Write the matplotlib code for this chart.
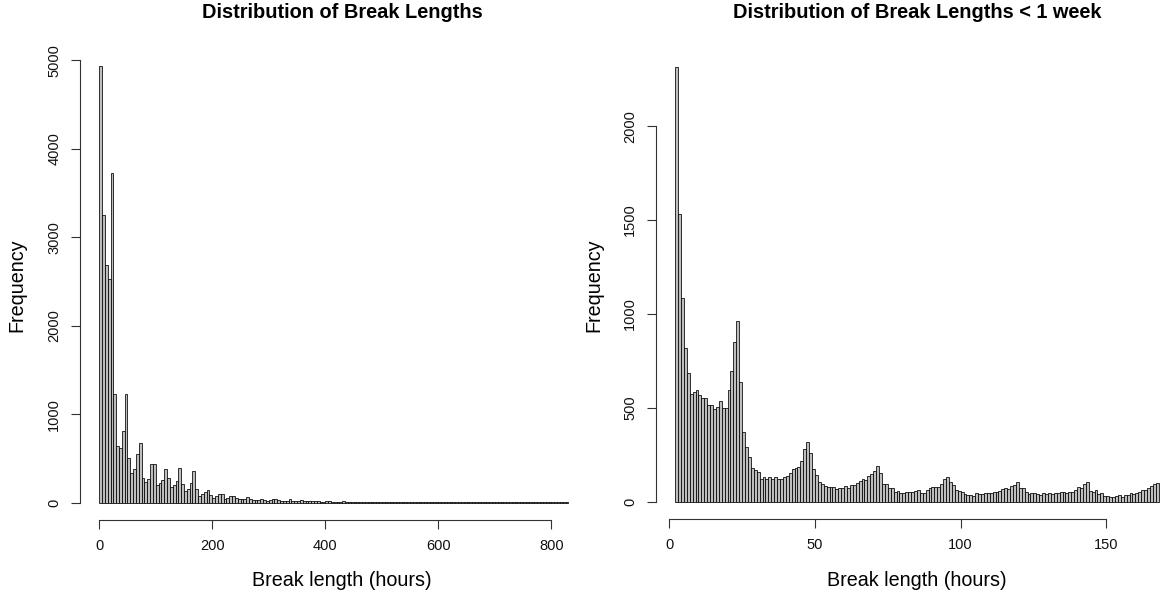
import matplotlib
matplotlib.use("Agg")
import matplotlib.pyplot as plt
import numpy as np

plt.rcParams['font.family'] = ['Liberation Sans', 'DejaVu Sans']

# ---- data ----
# Left: all breaks, 5-hour bins starting at 0 h
left_bin_start = 0
left_bin_width = 5
left_counts = [
    4930, 3250, 2690, 2530, 3730, 1232, 640, 621, 810, 1232,
    508, 339, 377, 546, 670, 282, 237, 271, 433, 433,
    196, 218, 256, 384, 275, 181, 200, 245, 388, 215,
    132, 155, 226, 358, 151, 75, 94, 121, 143, 83,
    56, 75, 94, 94, 45, 56, 79, 79, 49, 40,
    38, 45, 62, 40, 30, 32, 30, 45, 28, 22,
    25, 35, 45, 30, 22, 20, 22, 38, 22, 18,
    15, 28, 16, 14, 12, 14, 20, 12, 10, 9,
    12, 16, 10, 8, 8, 10, 12, 8, 7, 6,
    8, 10, 7, 6, 5, 7, 8, 5, 5, 6,
    7, 5, 4, 4, 5, 6, 4, 3, 4, 4,
    5, 3, 3, 3, 4, 4, 3, 2, 3, 3,
    4, 2, 2, 2, 3, 3, 2, 2, 2, 2,
    3, 2, 2, 1, 2, 2, 1, 2, 2, 1,
    1, 2, 1, 1, 2, 1, 1, 1, 1, 2,
    1, 1, 1, 1, 1, 1, 1, 1, 1, 1,
    1, 1, 1, 1, 1, 1,
]

# Right: breaks shorter than one week, 1-hour bins starting at 2 h
right_bin_start = 2
right_bin_width = 1
right_counts = [
    2316, 1532, 1083, 820, 687, 572, 586, 595, 568, 554,     # 2-11
    554, 513, 513, 495, 506, 536, 500, 497, 595, 696,        # 12-21
    848, 962, 639, 373, 289, 240, 177, 169, 160, 121,        # 22-31
    130, 121, 133, 119, 133, 121, 122, 133, 137, 151,        # 32-41
    174, 178, 183, 217, 279, 316, 261, 174, 142, 103,        # 42-51
    92, 83, 76, 80, 76, 69, 75, 71, 82, 75,                  # 52-61
    89, 89, 101, 110, 121, 115, 137, 150, 165, 192,          # 62-71
    151, 92, 92, 75, 71, 53, 57, 48, 44, 50,                 # 72-81
    50, 53, 57, 62, 44, 44, 62, 75, 80, 80,                  # 82-91
    76, 92, 121, 133, 106, 89, 62, 57, 53, 40,               # 92-101
    38, 35, 32, 44, 41, 41, 48, 46, 46, 53,                  # 102-111
    53, 55, 66, 71, 66, 83, 90, 106, 75, 71,                 # 112-121
    53, 41, 48, 44, 39, 35, 44, 40, 44, 42,                  # 122-131
    44, 44, 50, 50, 48, 52, 50, 60, 76, 75,                  # 132-141
    92, 106, 57, 50, 62, 41, 44, 30, 30, 27,                 # 142-151
    27, 32, 35, 27, 35, 35, 44, 40, 44, 53,                  # 152-161
    62, 62, 71, 83, 92, 98,                                  # 162-167
]

titles = ["Distribution of Break Lengths", "Distribution of Break Lengths < 1 week"]
xlabel = "Break length (hours)"
ylabel = "Frequency"
left_xticks = [0, 200, 400, 600, 800]
left_yticks = [0, 1000, 2000, 3000, 4000, 5000]
right_xticks = [0, 50, 100, 150]
right_yticks = [0, 500, 1000, 1500, 2000]

# ---- figure ----
W, H = 1163, 597
fig = plt.figure(figsize=(W / 100, H / 100), dpi=100)

def px(x0, y0, x1, y1):
    return [x0 / W, 1 - y1 / H, (x1 - x0) / W, (y1 - y0) / H]

ax1 = fig.add_axes(px(80.0, 49.0, 604.5, 520.0))
ax2 = fig.add_axes(px(655.8, 49.4, 1178.0, 519.1))

def draw(ax, start, width, counts, xticks, yticks, xlim=None):
    counts = np.asarray(counts, dtype=float)
    edges = start + width * np.arange(len(counts) + 1)
    ax.bar(edges[:-1], counts, width=width, align='edge',
           facecolor='#bebebe', edgecolor='black', linewidth=0.55)
    if xlim is None:
        lo, hi = edges[0], edges[-1]
        pad = 0.04 * (hi - lo)
        xlim = (lo - pad, hi + pad)
    ax.set_xlim(*xlim)
    ymax = counts.max()
    ax.set_ylim(-0.04 * ymax, 1.04 * ymax)
    for s in ['top', 'right']:
        ax.spines[s].set_visible(False)
    ax.spines['bottom'].set_bounds(xticks[0], xticks[-1])
    ax.spines['left'].set_bounds(yticks[0], yticks[-1])
    for s in ['bottom', 'left']:
        ax.spines[s].set_linewidth(0.8)
        ax.spines[s].set_color('#333333')
    ax.set_xticks(xticks)
    ax.set_yticks(yticks)
    ax.set_xticklabels([str(t) for t in xticks])
    ax.set_yticklabels([str(t) for t in yticks], rotation=90, va='center')
    ax.tick_params(axis='both', length=6.5, width=0.8, color='#333333',
                   labelsize=10.5, pad=7, labelcolor='#111111')
    ax.patch.set_visible(False)

draw(ax1, left_bin_start, left_bin_width, left_counts, left_xticks, left_yticks,
     xlim=(-34, 894))
draw(ax2, right_bin_start, right_bin_width, right_counts, right_xticks, right_yticks)

# titles and axis labels
fig.text(342.3 / W, 1 - 13 / H, titles[0], ha='center', va='center',
         fontsize=14.4, fontweight='bold')
fig.text(917.0 / W, 1 - 13 / H, titles[1], ha='center', va='center',
         fontsize=14.4, fontweight='bold')
fig.text(342.3 / W, 1 - 581 / H, xlabel, ha='center', va='center', fontsize=14.2)
fig.text(917.0 / W, 1 - 581 / H, xlabel, ha='center', va='center', fontsize=14.2)
fig.text(17 / W, 1 - 285 / H, ylabel, ha='center', va='center', fontsize=14.2, rotation=90)
fig.text(594 / W, 1 - 285 / H, ylabel, ha='center', va='center', fontsize=14.2, rotation=90)

fig.savefig("out.png", dpi=100)
